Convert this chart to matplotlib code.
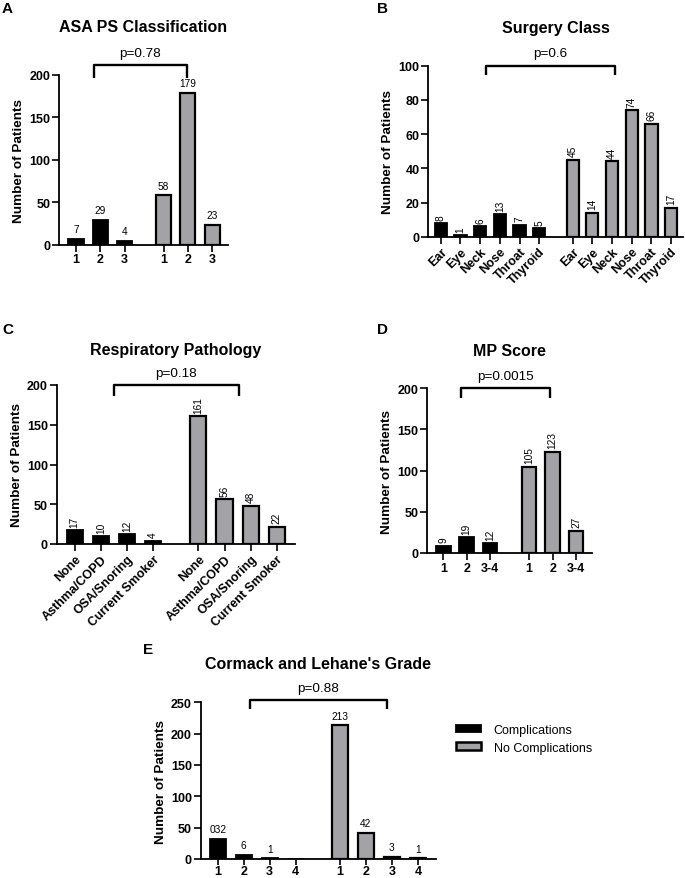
import matplotlib
matplotlib.use("Agg")
import matplotlib.pyplot as plt
from matplotlib.patches import Patch

plt.rcParams['font.family'] = ['Liberation Sans', 'DejaVu Sans']

# ---------------- data ----------------
asa_cats = ["1", "2", "3"]
asa_comp = [7, 29, 4]
asa_nocomp = [58, 179, 23]

surg_cats = ["Ear", "Eye", "Neck", "Nose", "Throat", "Thyroid"]
surg_comp = [8, 1, 6, 13, 7, 5]
surg_nocomp = [45, 14, 44, 74, 66, 17]

resp_cats = ["None", "Asthma/COPD", "OSA/Snoring", "Current Smoker"]
resp_comp = [17, 10, 12, 4]
resp_nocomp = [161, 56, 48, 22]

mp_cats = ["1", "2", "3-4"]
mp_comp = [9, 19, 12]
mp_nocomp = [105, 123, 27]

cl_cats = ["1", "2", "3", "4"]
cl_comp = [32, 6, 1, 0]
cl_nocomp = [213, 42, 3, 1]
cl_comp_labels = ["032", "6", "1", ""]

p_values = ["p=0.78", "p=0.6", "p=0.18", "p=0.0015", "p=0.88"]
titles = ["ASA PS Classification", "Surgery Class", "Respiratory Pathology",
          "MP Score", "Cormack and Lehane's Grade"]
series_names = ["Complications", "No Complications"]

# ---------------- style ----------------
W, H = 685, 879
GRAY = "#A3A3A7"
TICK_FS = 9
fig = plt.figure(figsize=(W / 100, H / 100), dpi=100)


def axes_px(x0, x1, ytop, ybot):
    return fig.add_axes([x0 / W, 1 - ybot / H, (x1 - x0) / W, (ybot - ytop) / H])


def panel(rect, cats, comp, nocomp, gap, xlim_pad, ymax, ystep, rot_ticks,
          rot_vals, bracket, title_y, pval, title, comp_labels=None):
    ax = axes_px(*rect)
    n = len(cats)
    x1 = list(range(n))
    x2 = [n - 1 + gap + i for i in range(n)]
    bw = 0.62
    b1 = ax.bar(x1, comp, width=bw, color="black", edgecolor="black", linewidth=1.3, zorder=3)
    b2 = ax.bar(x2, nocomp, width=bw, color=GRAY, edgecolor="black", linewidth=1.6, zorder=3)
    if comp_labels is None:
        comp_labels = [str(v) for v in comp]
    for xs, vals, labs in ((x1, comp, comp_labels), (x2, nocomp, [str(v) for v in nocomp])):
        for x, v, lab in zip(xs, vals, labs):
            ax.annotate(lab, (x, v), xytext=(0, 2.5 if rot_vals else 3.5),
                        textcoords="offset points", annotation_clip=False,
                        ha="center", va="bottom", fontsize=7.3,
                        rotation=90 if rot_vals else 0)
    ax.set_xlim(-xlim_pad[0], x2[-1] + xlim_pad[1])
    ax.set_ylim(0, ymax)
    ax.set_yticks(range(0, ymax + 1, ystep))
    ax.set_xticks(x1 + x2)
    if rot_ticks:
        ax.set_xticklabels(cats + cats, rotation=45, ha="right", rotation_mode="anchor",
                           fontweight="bold", fontsize=TICK_FS)
    else:
        ax.set_xticklabels(cats + cats, fontweight="bold", fontsize=TICK_FS)
    for lab in ax.get_yticklabels():
        lab.set_fontweight("bold")
        lab.set_fontsize(TICK_FS)
    ax.tick_params(axis="both", direction="out", length=4.8, width=1.2, pad=1.5)
    for s in ("top", "right"):
        ax.spines[s].set_visible(False)
    for s in ("left", "bottom"):
        ax.spines[s].set_linewidth(1.3)
    ax.set_ylabel("Number of Patients", fontweight="bold", fontsize=9.7, labelpad=3)
    # bracket
    bx1, bx2, btop, bbot = bracket
    ax.plot([bx1, bx1, bx2, bx2], [bbot, btop, btop, bbot], color="black", lw=1.7,
            clip_on=False, solid_capstyle="butt", zorder=4)
    ax.annotate(pval, ((bx1 + bx2) / 2, btop), xytext=(0, 8.8), textcoords="offset points",
                annotation_clip=False, ha="center", va="center", fontsize=9.7)
    # title
    cx = (rect[0] + rect[1]) / 2
    fig.text(cx / W, 1 - title_y / H, title, ha="center", va="center",
             fontweight="bold", fontsize=11.5)
    return ax, b1, b2


axA, _, _ = panel((59, 228, 76, 245.7), asa_cats, asa_comp, asa_nocomp, 1.6, (0.7, 0.65),
                  200, 50, False, False, (0.73, 4.57, 211.8, 196.5), 27, p_values[0], titles[0])

axB, _, _ = panel((428.3, 683, 66.7, 237.7), surg_cats, surg_comp, surg_nocomp, 1.7, (0.63, 0.6),
                  100, 20, True, True, (2.29, 8.83, 100, 94.5), 28, p_values[1], titles[1])

axC, _, _ = panel((56.7, 294.7, 386, 545), resp_cats, resp_comp, resp_nocomp, 1.74, (0.69, 0.69),
                  200, 50, True, True, (1.49, 6.31, 200, 186.5), 350, p_values[2], titles[2])

axD, _, _ = panel((427.3, 592, 389.3, 554), mp_cats, mp_comp, mp_nocomp, 1.66, (0.68, 0.68),
                  200, 50, False, True, (0.77, 4.55, 200, 188.7), 352, p_values[3], titles[3])

axE, bE1, bE2 = panel((200.7, 435.7, 703.3, 860), cl_cats, cl_comp, cl_nocomp, 1.69, (0.65, 0.68),
                      250, 50, False, False, (1.23, 6.51, 254, 239), 665, p_values[4], titles[4],
                      comp_labels=cl_comp_labels)
axE.tick_params(axis="x", length=4, pad=0.5)

handles = [Patch(facecolor="black", edgecolor="black", linewidth=1.3),
           Patch(facecolor=GRAY, edgecolor="black", linewidth=1.8)]
fig.legend(handles, series_names, loc="upper left",
           bbox_to_anchor=(456 / W, 1 - 725 / H), frameon=False, fontsize=9,
           borderpad=0, borderaxespad=0,
           handlelength=2.0, handleheight=0.55, handletextpad=1.0, labelspacing=0.45)

# panel letters
for letter, (x, y) in zip("ABCDE", [(2, 9), (377, 9), (2, 330), (377, 330), (143, 650)]):
    fig.text(x / W, 1 - y / H, letter, ha="left", va="center", fontweight="bold", fontsize=11)

fig.savefig("out.png", dpi=100)
